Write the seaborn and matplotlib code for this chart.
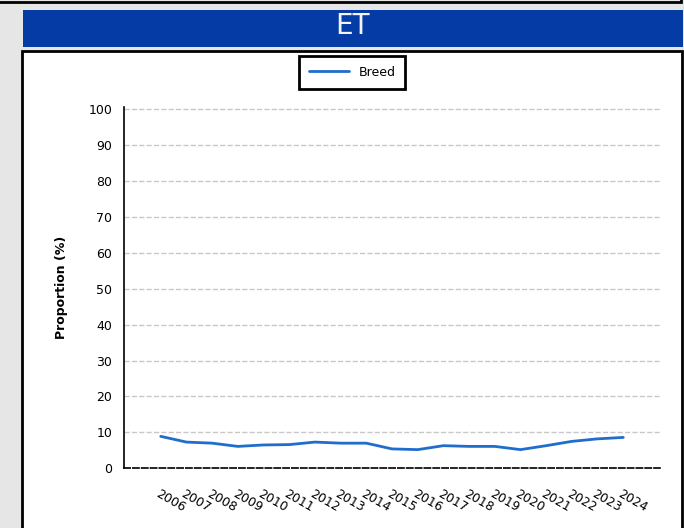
import matplotlib
matplotlib.use("Agg")
import matplotlib.pyplot as plt
import matplotlib.transforms as mtransforms
from matplotlib.patches import Rectangle
import pandas as pd
import seaborn as sns

years = list(range(2006, 2025))
breed = [8.9, 7.3, 7.0, 6.1, 6.5, 6.6, 7.3, 7.0, 7.0, 5.4, 5.2, 6.3, 6.1, 6.1, 5.2, 6.3, 7.5, 8.2, 8.6]
series_name = "Breed"
title = "ET"
y_ticks = list(range(0, 101, 10))

df = pd.DataFrame({"year": years, "value": breed, "series": series_name})

sns.set_style("white")
plt.rcParams["font.family"] = ["DejaVu Sans"]
plt.rcParams.update({"text.color": "black", "axes.labelcolor": "black",
                     "xtick.color": "black", "ytick.color": "black"})

W, H = 684, 528
fig = plt.figure(figsize=(W / 100, H / 100), dpi=100)
fig.patch.set_facecolor("#e6e6e6")

# frame pieces around the chart
fig.patches.append(Rectangle((-10 / W, 1 - 2 / H), 691 / W, 20 / H, transform=fig.transFigure,
                             facecolor="#e6e6e6", edgecolor="black", linewidth=2, zorder=-5))
fig.patches.append(Rectangle((23 / W, 1 - 47 / H), 660 / W, 37 / H, transform=fig.transFigure,
                             facecolor="#053ba4", edgecolor="none", zorder=-5))
fig.patches.append(Rectangle((22 / W, -20 / H), 660 / W, (H - 51 + 20) / H, transform=fig.transFigure,
                             facecolor="white", edgecolor="black", linewidth=2, zorder=-5))
fig.text(352 / W, 1 - 26.5 / H, title, color="#f4f4f8", fontsize=20,
         ha="center", va="center")

ax = fig.add_axes([124 / W, 1 - 468.3 / H, 536 / W, (468.3 - 106.7) / H])
ax.set_zorder(2)
ax.set_facecolor("none")
sns.lineplot(data=df, x="year", y="value", hue="series", palette=["#1f6dcd"],
             linewidth=2, ax=ax, legend=True)

ax.set_ylim(0, 100.7)
ax.set_xlim(2004.57, 2025.43)
ax.set_yticks(y_ticks)
ax.set_xticks(years)
ax.set_xlabel("")
ax.set_ylabel("Proportion (%)", fontsize=9, fontweight="bold")
ax.yaxis.set_label_coords(-0.104, 0.5)

ax.grid(axis="y", linestyle="--", color="#c8c8c8", linewidth=1)
ax.grid(axis="x", visible=False)
for s in ["top", "right"]:
    ax.spines[s].set_visible(False)
ax.spines["left"].set_color("black")
ax.spines["left"].set_linewidth(1.2)
ax.spines["bottom"].set_color("black")
ax.spines["bottom"].set_linestyle("--")
ax.spines["bottom"].set_linewidth(1.2)

ax.tick_params(axis="both", direction="out", length=5, width=1, color="black", labelsize=9)
ax.tick_params(axis="x", pad=9)
offset = mtransforms.ScaledTranslation(-1 / 100, 0, fig.dpi_scale_trans)
for lab in ax.get_xticklabels():
    lab.set_rotation(-30)
    lab.set_ha("left")
    lab.set_va("top")
    lab.set_rotation_mode("anchor")
    lab.set_transform(lab.get_transform() + offset)

ax.legend_.remove()
handles, labels = ax.get_legend_handles_labels()
leg = fig.legend(handles, labels, loc="upper center", bbox_to_anchor=(352 / W, 1 - 56 / H),
                 frameon=True, fancybox=False, framealpha=1, fontsize=9, handlelength=3.2,
                 borderpad=0.78, borderaxespad=0)
leg.get_frame().set_edgecolor("black")
leg.get_frame().set_linewidth(2)

fig.savefig("out.png", dpi=100, facecolor=fig.get_facecolor())
